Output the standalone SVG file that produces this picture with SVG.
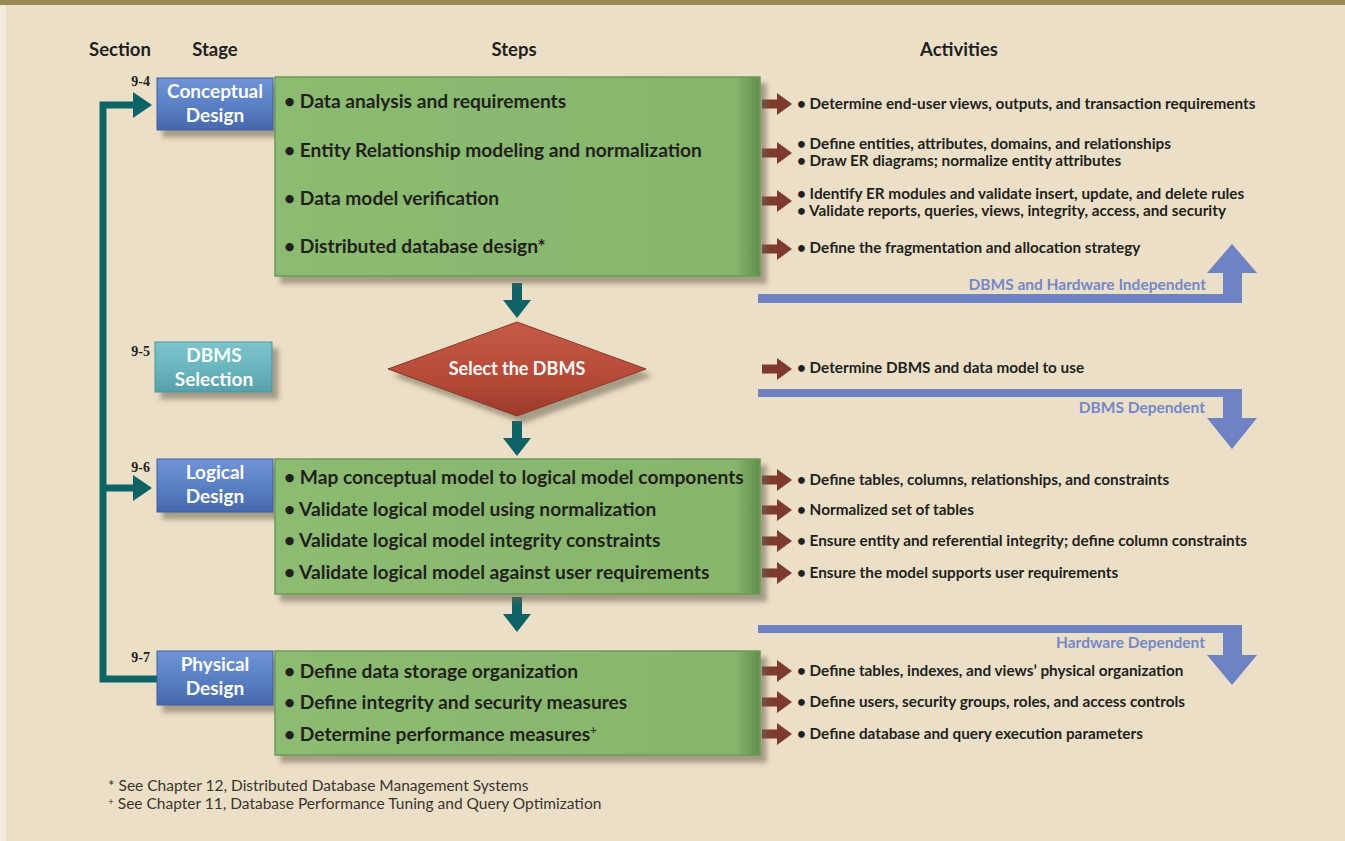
<svg xmlns="http://www.w3.org/2000/svg" width="1345" height="841" viewBox="0 0 1345 841">
<defs>
<linearGradient id="gBlue" x1="0" y1="0" x2="0" y2="1">
<stop offset="0" stop-color="#6f95d6"/><stop offset="0.5" stop-color="#5a80c6"/><stop offset="1" stop-color="#4668ad"/>
</linearGradient>
<linearGradient id="gTeal" x1="0" y1="0" x2="0" y2="1">
<stop offset="0" stop-color="#7cc4cb"/><stop offset="0.5" stop-color="#6bb6bf"/><stop offset="1" stop-color="#56a0aa"/>
</linearGradient>
<linearGradient id="gGreen" x1="0" y1="0" x2="1" y2="0">
<stop offset="0" stop-color="#8cbc72"/><stop offset="0.95" stop-color="#86b66c"/><stop offset="1" stop-color="#5f8f4c"/>
</linearGradient>
<linearGradient id="gRed" x1="0" y1="0" x2="0" y2="1">
<stop offset="0" stop-color="#c65a47"/><stop offset="0.6" stop-color="#b64a38"/><stop offset="1" stop-color="#9c3a2b"/>
</linearGradient>
<filter id="sh" x="-10%" y="-10%" width="130%" height="140%">
<feDropShadow dx="6" dy="7" stdDeviation="2.5" flood-color="#6b6550" flood-opacity="0.55"/>
</filter>
<g id="redArrow"><path d="M0,-4.5 H15 V-11 L30,0 L15,11 V4.5 H0 Z" fill="#7e3a2d"/></g>
<g id="tealDown"><path d="M-5,0 H5 V17 H14 L0,35 L-14,17 H-5 Z" fill="#0e6366"/></g>
</defs>
<style>
.hd{font-family:Lato,"Liberation Sans",sans-serif;font-weight:bold;font-size:18.5px;fill:#231f1c;text-anchor:middle}
.sec{font-family:"Liberation Serif",serif;font-weight:bold;font-size:14px;fill:#231f1c;text-anchor:end}
.stg{font-family:Lato,"Liberation Sans",sans-serif;font-weight:bold;font-size:19px;fill:#ffffff;text-anchor:middle}
.dia{font-family:Lato,"Liberation Sans",sans-serif;font-weight:bold;font-size:18px;fill:#ffffff;text-anchor:middle}
.step{font-family:Lato,"Liberation Sans",sans-serif;font-weight:bold;font-size:19.2px;fill:#231f1c}
.act{font-family:Lato,"Liberation Sans",sans-serif;font-weight:bold;font-size:15.3px;fill:#231f1c}
.band{font-family:Lato,"Liberation Sans",sans-serif;font-weight:bold;font-size:15.5px;fill:#7488c9;text-anchor:end}
.fn{font-family:Lato,"Liberation Sans",sans-serif;font-size:15.5px;fill:#3a3530}
.blue{fill:#6f83c4}
</style>
<rect x="0" y="0" width="1345" height="841" fill="#ecdfc7"/>
<rect x="0" y="0" width="6" height="841" fill="#f3ebdc"/>
<rect x="0" y="0" width="1345" height="5" fill="#998a53"/>

<g id="headers">
<text class="hd" x="120" y="56">Section</text>
<text class="hd" x="215" y="56">Stage</text>
<text class="hd" x="514" y="56">Steps</text>
<text class="hd" x="959" y="56">Activities</text>
</g>

<g id="bands">
<path class="blue" d="M758,294 H1223 V273 H1207 L1232,244 L1257,273 H1242 V303 H758 Z"/>
<text class="band" x="1206" y="290">DBMS and Hardware Independent</text>
<path class="blue" d="M758,389 H1242 V418 H1257 L1232,449 L1207,418 H1223 V397 H758 Z"/>
<text class="band" x="1205" y="413">DBMS Dependent</text>
<path class="blue" d="M758,625 H1242 V655 H1257 L1232,685 L1207,655 H1223 V633 H758 Z"/>
<text class="band" x="1205" y="648">Hardware Dependent</text>
</g>

<g id="connectors">
<path d="M157,679 H103 V105 H138" fill="none" stroke="#0e6366" stroke-width="7"/>
<path d="M103,488 H138" fill="none" stroke="#0e6366" stroke-width="7"/>
<path d="M133,92 L152,105 L133,118 Z" fill="#0e6366"/>
<path d="M133,475 L152,488 L133,501 Z" fill="#0e6366"/>
<use href="#tealDown" x="517" y="283"/>
<use href="#tealDown" x="517" y="421"/>
<use href="#tealDown" x="517" y="597"/>
<use href="#redArrow" x="762" y="104"/>
<use href="#redArrow" x="762" y="153"/>
<use href="#redArrow" x="762" y="201"/>
<use href="#redArrow" x="762" y="249"/>
<use href="#redArrow" x="762" y="369"/>
<use href="#redArrow" x="762" y="480"/>
<use href="#redArrow" x="762" y="510"/>
<use href="#redArrow" x="762" y="541"/>
<use href="#redArrow" x="762" y="573"/>
<use href="#redArrow" x="762" y="671"/>
<use href="#redArrow" x="762" y="702"/>
<use href="#redArrow" x="762" y="734"/>
</g>

<g id="conceptual">
<text class="sec" x="150" y="86">9-4</text>
<rect x="157" y="78" width="116" height="52" fill="url(#gBlue)" stroke="#3f5f9e" stroke-width="1" filter="url(#sh)"/>
<text class="stg" x="215" y="98">Conceptual</text>
<text class="stg" x="215" y="122">Design</text>
</g>
<g id="conceptualSteps">
<rect x="275" y="77" width="485" height="199" fill="url(#gGreen)" stroke="#6c9a58" stroke-width="1.5" filter="url(#sh)"/>
<text class="step" x="284" y="108">• Data analysis and requirements</text>
<text class="step" x="284" y="157">• Entity Relationship modeling and normalization</text>
<text class="step" x="284" y="205">• Data model verification</text>
<text class="step" x="284" y="253">• Distributed database design*</text>
</g>

<g id="dbmsSelection">
<text class="sec" x="150" y="356">9-5</text>
<rect x="155" y="342" width="117" height="50" fill="url(#gTeal)" stroke="#4f949d" stroke-width="1" filter="url(#sh)"/>
<text class="stg" x="214" y="362">DBMS</text>
<text class="stg" x="214" y="386">Selection</text>
</g>
<g id="selectDbms">
<path d="M388,369 L517,322 L646,369 L517,416 Z" fill="url(#gRed)" stroke="#8e3526" stroke-width="1" filter="url(#sh)"/>
<text class="dia" x="517" y="375">Select the DBMS</text>
</g>

<g id="logical">
<text class="sec" x="150" y="472">9-6</text>
<rect x="157" y="459" width="116" height="53" fill="url(#gBlue)" stroke="#3f5f9e" stroke-width="1" filter="url(#sh)"/>
<text class="stg" x="215" y="479">Logical</text>
<text class="stg" x="215" y="503">Design</text>
</g>
<g id="logicalSteps">
<rect x="275" y="459" width="485" height="135" fill="url(#gGreen)" stroke="#6c9a58" stroke-width="1.5" filter="url(#sh)"/>
<text class="step" x="284" y="484">• Map conceptual model to logical model components</text>
<text class="step" x="284" y="516">• Validate logical model using normalization</text>
<text class="step" x="284" y="547">• Validate logical model integrity constraints</text>
<text class="step" x="284" y="579">• Validate logical model against user requirements</text>
</g>

<g id="physical">
<text class="sec" x="150" y="662">9-7</text>
<rect x="157" y="651" width="116" height="54" fill="url(#gBlue)" stroke="#3f5f9e" stroke-width="1" filter="url(#sh)"/>
<text class="stg" x="215" y="671">Physical</text>
<text class="stg" x="215" y="695">Design</text>
</g>
<g id="physicalSteps">
<rect x="275" y="651" width="485" height="104" fill="url(#gGreen)" stroke="#6c9a58" stroke-width="1.5" filter="url(#sh)"/>
<text class="step" x="284" y="678">• Define data storage organization</text>
<text class="step" x="284" y="709">• Define integrity and security measures</text>
<text class="step" x="284" y="741">• Determine performance measures<tspan font-size="11" dy="-7">+</tspan></text>
</g>

<g id="activities">
<text class="act" x="797" y="109">• Determine end-user views, outputs, and transaction requirements</text>
<text class="act" x="797" y="149">• Define entities, attributes, domains, and relationships</text>
<text class="act" x="797" y="166">• Draw ER diagrams; normalize entity attributes</text>
<text class="act" x="797" y="199">• Identify ER modules and validate insert, update, and delete rules</text>
<text class="act" x="797" y="216">• Validate reports, queries, views, integrity, access, and security</text>
<text class="act" x="797" y="253">• Define the fragmentation and allocation strategy</text>
<text class="act" x="797" y="373">• Determine DBMS and data model to use</text>
<text class="act" x="797" y="485">• Define tables, columns, relationships, and constraints</text>
<text class="act" x="797" y="515">• Normalized set of tables</text>
<text class="act" x="797" y="546">• Ensure entity and referential integrity; define column constraints</text>
<text class="act" x="797" y="578">• Ensure the model supports user requirements</text>
<text class="act" x="797" y="676">• Define tables, indexes, and views’ physical organization</text>
<text class="act" x="797" y="707">• Define users, security groups, roles, and access controls</text>
<text class="act" x="797" y="739">• Define database and query execution parameters</text>
</g>

<g id="footnotes">
<text class="fn" x="108" y="791">* See Chapter 12, Distributed Database Management Systems</text>
<text class="fn" x="108" y="809"><tspan font-size="10" dy="-4">+</tspan><tspan dy="4"> See Chapter 11, Database Performance Tuning and Query Optimization</tspan></text>
</g>
</svg>
